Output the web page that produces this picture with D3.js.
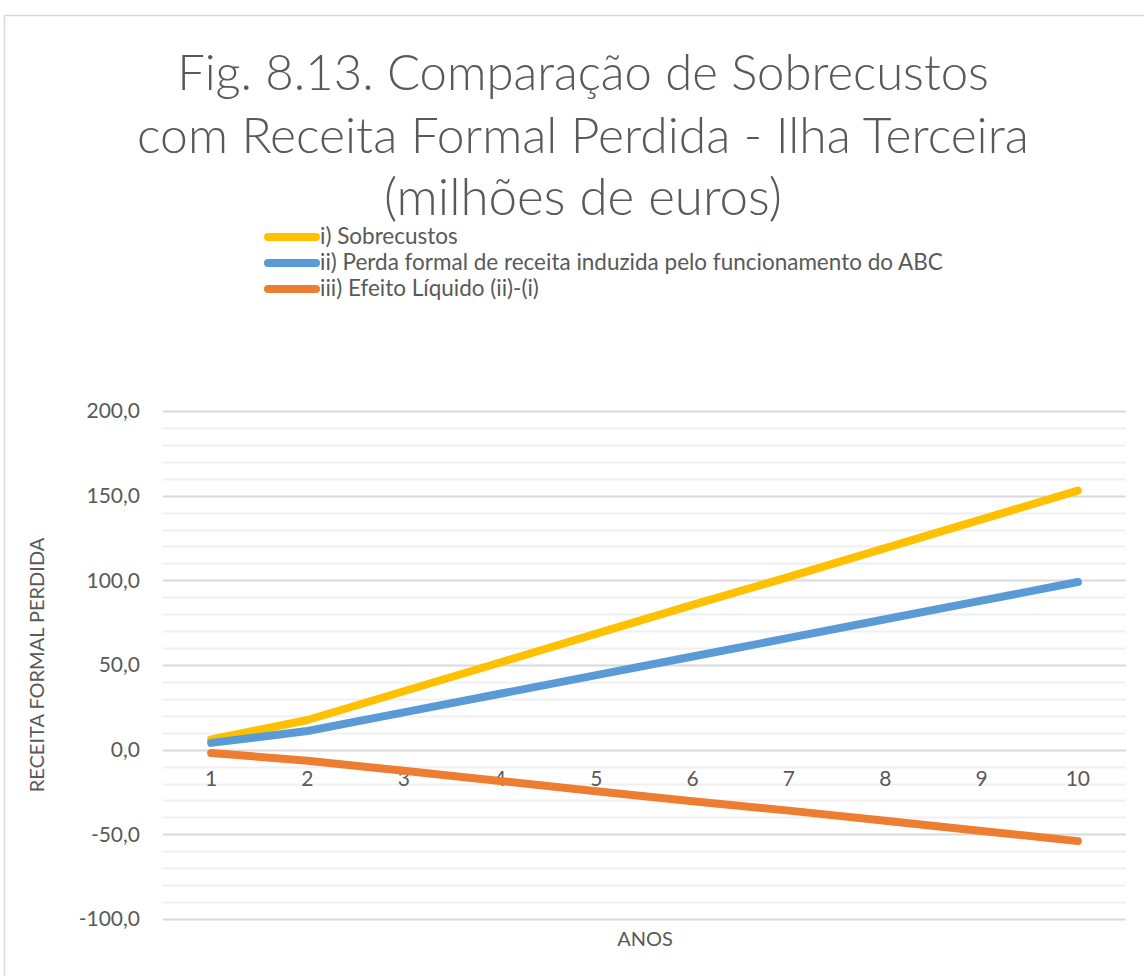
<!DOCTYPE html>
<html>
<head>
<meta charset="utf-8">
<script src="https://cdn.jsdelivr.net/npm/d3@7"></script>
<style>
  body { margin: 0; background: #fff; }
  text { font-family: Lato, "Open Sans", sans-serif; fill: #595959; }
</style>
</head>
<body>
<div id="chart"></div>
<script>
var anos = ['1', '2', '3', '4', '5', '6', '7', '8', '9', '10'];
var sobrecustos = [6, 17.5, 34.5, 51.5, 68.5, 85.5, 102, 119, 136, 153];
var perdaReceita = [4, 11, 22, 33, 44, 55, 66, 77, 88, 99];
var efeitoLiquido = [-2, -6.5, -12.5, -18.5, -24.5, -30.5, -36, -42, -48, -54];
var seriesNames = ['i) Sobrecustos', 'ii) Perda formal de receita induzida pelo funcionamento do ABC', 'iii) Efeito Líquido (ii)-(i)'];
var seriesColors = ['#FFC000', '#5B9BD5', '#ED7D31'];
var yTicks = [-100, -50, 0, 50, 100, 150, 200];
var titleLines = ['Fig. 8.13. Comparação de Sobrecustos', 'com Receita Formal Perdida - Ilha Terceira', '(milhões de euros)'];

var width = 1144, height = 976;
var svg = d3.select('#chart').append('svg').attr('width', width).attr('height', height);

// scale a text's font so that it spans the given width
var fitWidth = function(el, size, target) {
  var w = el.node().getComputedTextLength();
  el.attr('font-size', size * target / w);
};

// chart frame
svg.append('rect').attr('x', 4.5).attr('y', 15.5).attr('width', 1200).attr('height', 1000)
  .attr('fill', 'none').attr('stroke', '#d9d9d9').attr('stroke-width', 1.5);

// title
var titleWidths = [812, 892, 398];
titleLines.forEach(function(t, i) {
  var el = svg.append('text').attr('x', 583).attr('y', 90 + i * 62.5)
    .attr('text-anchor', 'middle').attr('font-size', 46).attr('font-weight', 300).text(t);
  fitWidth(el, 46, titleWidths[i]);
});

// legend
var legend = svg.append('g');
var legendSize = 18;
seriesNames.forEach(function(name, i) {
  var y = 237 + i * 26;
  legend.append('line').attr('x1', 268).attr('x2', 316).attr('y1', y).attr('y2', y)
    .attr('stroke', seriesColors[i]).attr('stroke-width', 8).attr('stroke-linecap', 'round');
  var el = legend.append('text').attr('x', 320).attr('y', y + 7).attr('font-size', 18).text(name);
  if (i === 1) legendSize = 18 * 623 / el.node().getComputedTextLength();
});
legend.selectAll('text').attr('font-size', legendSize);

var x = d3.scaleBand().domain(anos).range([163, 1126]);
var y = d3.scaleLinear().domain([-100, 200]).range([919, 411]);

// gridlines
var minor = d3.range(-100, 201, 10);
svg.append('g').selectAll('line').data(minor).enter().append('line')
  .attr('x1', 163).attr('x2', 1126)
  .attr('y1', function(d) { return Math.round(y(d)) + 0.5; })
  .attr('y2', function(d) { return Math.round(y(d)) + 0.5; })
  .attr('stroke', function(d) { return d % 50 === 0 ? '#d9d9d9' : '#f0f0f0'; })
  .attr('stroke-width', 2);

// y axis labels
var yAxis = d3.axisLeft(y).tickValues(yTicks).tickSize(0).tickPadding(0)
  .tickFormat(function(d) { return d3.format('.1f')(d).replace('.', ',').replace('\u2212', '-'); });
var yg = svg.append('g').attr('transform', 'translate(140,0)').call(yAxis);
yg.select('.domain').remove();
yg.selectAll('text').attr('font-size', 21).attr('fill', '#595959')
  .style('font-family', 'Lato, "Open Sans", sans-serif');

// x axis labels at zero
var xAxis = d3.axisBottom(x).tickSize(0).tickPadding(21);
var xg = svg.append('g').attr('transform', 'translate(0,' + y(0) + ')').call(xAxis);
xg.select('.domain').remove();
xg.selectAll('text').attr('font-size', 21).attr('fill', '#595959')
  .style('font-family', 'Lato, "Open Sans", sans-serif');

// lines
var line = d3.line()
  .x(function(d, i) { return x(anos[i]) + x.bandwidth() / 2; })
  .y(function(d) { return y(d); });
[sobrecustos, perdaReceita, efeitoLiquido].forEach(function(s, i) {
  svg.append('path').datum(s).attr('d', line).attr('fill', 'none')
    .attr('stroke', seriesColors[i]).attr('stroke-width', 8)
    .attr('stroke-linecap', 'round').attr('stroke-linejoin', 'round');
});

// axis titles
svg.append('text').attr('x', 645).attr('y', 946).attr('text-anchor', 'middle')
  .attr('font-size', 20).text('ANOS');
svg.append('text').attr('transform', 'translate(44,665) rotate(-90)').attr('text-anchor', 'middle')
  .attr('font-size', 20).text('RECEITA FORMAL PERDIDA');
</script>
</body>
</html>
